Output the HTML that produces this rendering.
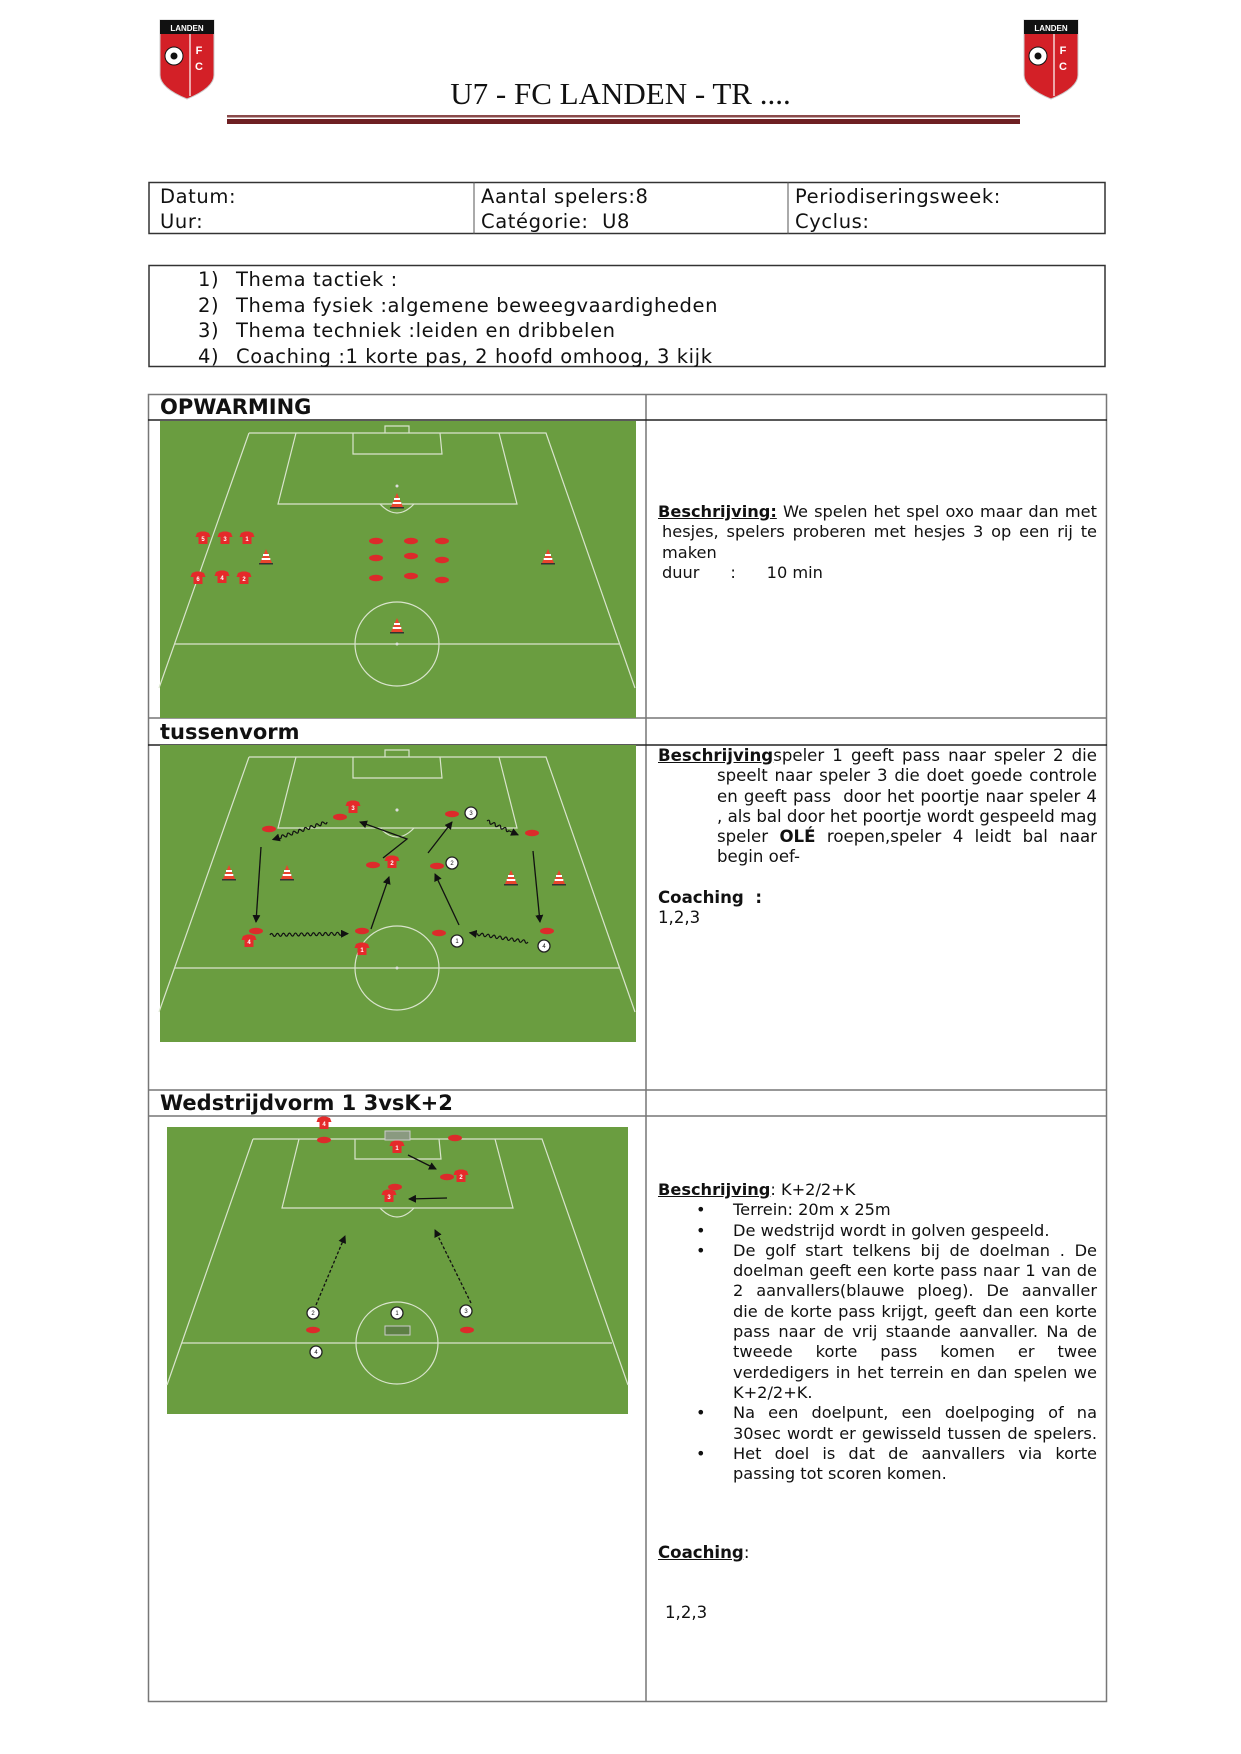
<!DOCTYPE html>
<html><head><meta charset="utf-8"><style>
body{margin:0;background:#fff}
#p{position:relative;width:1241px;height:1754px;overflow:hidden;font-family:"DejaVu Sans","Liberation Sans",sans-serif;color:#111}
.a{position:absolute}
.rt{font-size:16.6px;line-height:20.3px;text-align:justify}
.hd{font-weight:bold;font-size:21px}
.lt{font-size:19.5px;line-height:25px;letter-spacing:0.6px}
.j{text-align:justify;text-align-last:justify;white-space:nowrap}
.l{white-space:nowrap}
.bl{position:relative;padding-left:75px;font-size:16.2px}
.bl>span{position:absolute;left:38px}
</style></head><body><div id="p">
<svg class="a" style="left:0;top:0" width="1241" height="1754" viewBox="0 0 1241 1754">
<defs>
<g id="sh"><path d="M-6,-5 L-2,-6.5 L2,-6.5 L6,-5 L7.5,-1 L4.5,-1 L4.5,6 L-4.5,6 L-4.5,-1 L-7.5,-1 Z" fill="#e52a2a"/></g>
<g id="cn"><polygon points="0,-9 6,5 -6,5" fill="#e9452d"/><rect x="-3" y="-4" width="6" height="2" fill="#fff"/><rect x="-4.3" y="0" width="8.6" height="2" fill="#fff"/><rect x="-7" y="5" width="14" height="1.5" fill="#333"/></g>
<g id="ds"><ellipse cx="0" cy="0" rx="7" ry="3.2" fill="#dc2b2b"/></g>
<g id="wc"><circle r="6" fill="#fff" stroke="#222" stroke-width="1.3"/></g>
<marker id="ar" markerWidth="8" markerHeight="8" refX="7" refY="4" orient="auto" markerUnits="userSpaceOnUse"><path d="M0,0 L8,4 L0,8 Z" fill="#111"/></marker>
</defs>
<g id="logo">
<path d="M160,20 H214 V75 Q214,88 187,99 Q160,88 160,75 Z" fill="#d32027" stroke="#ccc"/>
<rect x="160" y="20" width="54" height="14" fill="#111"/>
<line x1="190" y1="34" x2="190" y2="96" stroke="#fff" stroke-width="1.2"/>
<circle cx="174" cy="56" r="9" fill="#fff" stroke="#111"/><circle cx="174" cy="56" r="3.5" fill="#111"/>
</g>
<text x="187" y="31" font-family="Liberation Sans" font-size="8" font-weight="bold" fill="#fff" text-anchor="middle">LANDEN</text>
<text x="199" y="54" font-family="Liberation Sans" font-size="11" font-weight="bold" fill="#fff" text-anchor="middle">F</text>
<text x="199" y="70" font-family="Liberation Sans" font-size="11" font-weight="bold" fill="#fff" text-anchor="middle">C</text>
<use href="#logo" transform="translate(864,0)"/>
<text x="1051" y="31" font-family="Liberation Sans" font-size="8" font-weight="bold" fill="#fff" text-anchor="middle">LANDEN</text>
<text x="1063" y="54" font-family="Liberation Sans" font-size="11" font-weight="bold" fill="#fff" text-anchor="middle">F</text>
<text x="1063" y="70" font-family="Liberation Sans" font-size="11" font-weight="bold" fill="#fff" text-anchor="middle">C</text>
<rect x="227" y="115" width="793" height="2.5" fill="#8a4a4a"/>
<rect x="227" y="119" width="793" height="5" fill="#6e1f22"/>
<rect x="149" y="182.5" width="956" height="51" fill="none" stroke="#333" stroke-width="1.5"/>
<line x1="474" y1="182" x2="474" y2="234" stroke="#555"/>
<line x1="788" y1="182" x2="788" y2="234" stroke="#555"/>
<rect x="149" y="265.5" width="956" height="101" fill="none" stroke="#333" stroke-width="1.5"/>
<g stroke="#777" stroke-width="1.5" fill="none">
<rect x="148.5" y="394.5" width="958" height="1307"/>
<line x1="646" y1="394" x2="646" y2="1702"/>
<line x1="148" y1="420" x2="1107" y2="420" stroke="#222"/>
<line x1="148" y1="718" x2="1107" y2="718"/>
<line x1="148" y1="745" x2="1107" y2="745" stroke="#222"/>
<line x1="148" y1="1090" x2="1107" y2="1090"/>
<line x1="148" y1="1116" x2="1107" y2="1116"/>
</g>
<rect x="160" y="421" width="476" height="297" fill="#6a9d40"/>
<g fill="none" stroke="#d9e4cc" stroke-width="1.2">
<path d="M249,433 H546 L635,688 M249,433 L159,688"/>
<path d="M296,433 L278,504 H517 L499,433"/>
<path d="M353,433 V454 H442 L440,433"/>
<path d="M385,433 V426 H409 V433"/>
<path d="M175,644 H619"/>
<circle cx="397" cy="644" r="42"/>
<path d="M380,504 Q397,522 414,504"/>
</g>
<circle cx="397" cy="486" r="1.5" fill="#ddd"/><circle cx="397" cy="644" r="1.5" fill="#ddd"/>
<use href="#sh" x="203" y="538"/><use href="#sh" x="225" y="538"/><use href="#sh" x="247" y="538"/>
<use href="#sh" x="198" y="578"/><use href="#sh" x="222" y="577"/><use href="#sh" x="244" y="578"/>
<use href="#cn" x="397" y="502"/><use href="#cn" x="266" y="558"/><use href="#cn" x="548" y="558"/><use href="#cn" x="397" y="627"/>
<use href="#ds" x="376" y="541"/><use href="#ds" x="411" y="541"/><use href="#ds" x="442" y="541"/>
<use href="#ds" x="376" y="558"/><use href="#ds" x="411" y="556"/><use href="#ds" x="442" y="560"/>
<use href="#ds" x="376" y="578"/><use href="#ds" x="411" y="576"/><use href="#ds" x="442" y="580"/>
<g font-size="6" fill="#fff" font-family="Liberation Sans" text-anchor="middle" font-weight="bold">
<text x="203" y="541">5</text><text x="225" y="541">3</text><text x="247" y="541">1</text>
<text x="198" y="581">6</text><text x="222" y="580">4</text><text x="244" y="581">2</text>
</g>
<g transform="translate(0,324)">
<rect x="160" y="421" width="476" height="297" fill="#6a9d40"/>
<g fill="none" stroke="#d9e4cc" stroke-width="1.2">
<path d="M249,433 H546 L635,688 M249,433 L159,688"/>
<path d="M296,433 L278,504 H517 L499,433"/>
<path d="M353,433 V454 H442 L440,433"/>
<path d="M385,433 V426 H409 V433"/>
<path d="M175,644 H619"/>
<circle cx="397" cy="644" r="42"/>
<path d="M380,504 Q397,522 414,504"/>
</g>
<circle cx="397" cy="486" r="1.5" fill="#ddd"/><circle cx="397" cy="644" r="1.5" fill="#ddd"/>
</g>
<use href="#ds" x="340" y="817"/><use href="#ds" x="269" y="829"/><use href="#ds" x="452" y="814"/><use href="#ds" x="532" y="833"/>
<use href="#ds" x="373" y="865"/><use href="#ds" x="437" y="866"/><use href="#ds" x="256" y="931"/><use href="#ds" x="362" y="931"/>
<use href="#ds" x="439" y="933"/><use href="#ds" x="547" y="931"/>
<use href="#cn" x="229" y="874"/><use href="#cn" x="287" y="874"/><use href="#cn" x="511" y="879"/><use href="#cn" x="559" y="879"/>
<use href="#sh" x="353" y="807"/><use href="#sh" x="392" y="862"/><use href="#sh" x="249" y="941"/><use href="#sh" x="362" y="949"/>
<use href="#wc" x="471" y="813"/><use href="#wc" x="452" y="863"/><use href="#wc" x="457" y="941"/><use href="#wc" x="544" y="946"/>
<g font-size="6" fill="#fff" font-family="Liberation Sans" text-anchor="middle" font-weight="bold">
<text x="353" y="810">3</text><text x="392" y="865">2</text><text x="249" y="944">4</text><text x="362" y="952">1</text>
</g>
<g font-size="6" fill="#111" font-family="Liberation Sans" text-anchor="middle">
<text x="471" y="815">3</text><text x="452" y="865">2</text><text x="457" y="943">1</text><text x="544" y="948">4</text>
</g>
<g stroke="#111" stroke-width="1.3" fill="none" marker-end="url(#ar)">
<line x1="261" y1="847" x2="256" y2="922"/>
<line x1="371" y1="929" x2="389" y2="877"/>
<line x1="459" y1="925" x2="435" y2="874"/>
<line x1="533" y1="851" x2="540" y2="922"/>
<line x1="428" y1="853" x2="452" y2="822"/>
<path d="M383,858 L407,839 L360,822"/>
</g>
<g stroke="#111" stroke-width="1.2" fill="none">
<path transform="translate(270,935) rotate(-1)" d="M0,0 q1.5,-3 3,0 t3,0 t3,0 t3,0 t3,0 t3,0 t3,0 t3,0 t3,0 t3,0 t3,0 t3,0 t3,0 t3,0 t3,0 t3,0 t3,0 t3,0 t3,0 t3,0 t3,0 t3,0 t3,0 t3,0 l6,0" marker-end="url(#ar)"/>
<path transform="translate(528,942) rotate(189)" d="M0,0 q1.5,-3 3,0 t3,0 t3,0 t3,0 t3,0 t3,0 t3,0 t3,0 t3,0 t3,0 t3,0 t3,0 t3,0 t3,0 t3,0 t3,0 t3,0 l8,0" marker-end="url(#ar)"/>
<path transform="translate(327,822) rotate(162)" d="M0,0 q1.5,-3 3,0 t3,0 t3,0 t3,0 t3,0 t3,0 t3,0 t3,0 t3,0 t3,0 t3,0 t3,0 t3,0 t3,0 t3,0 t3,0 t3,0 l6,0" marker-end="url(#ar)"/>
<path transform="translate(487,821) rotate(24)" d="M0,0 q1.5,-3 3,0 t3,0 t3,0 t3,0 t3,0 t3,0 t3,0 t3,0 l10,0" marker-end="url(#ar)"/>
</g>
<circle cx="397" cy="810" r="1.5" fill="#ddd"/>
<rect x="167" y="1127" width="461" height="287" fill="#6a9d40"/>
<g fill="none" stroke="#d9e4cc" stroke-width="1.2">
<path d="M253,1139 H542 L628,1385 M253,1139 L167,1385"/>
<path d="M299,1139 L282,1208 H513 L495,1139"/>
<path d="M355,1139 L355,1159 H441 L439,1139"/>
<path d="M182,1343 H612"/>
<circle cx="397" cy="1343" r="41"/>
<path d="M380,1208 Q397,1226 414,1208"/>
</g>
<rect x="385" y="1131" width="25" height="9" fill="#8a9a80" stroke="#ccc"/>
<rect x="385" y="1326" width="25" height="9" fill="#5d7f45" stroke="#ccc"/>
<use href="#ds" x="324" y="1140"/><use href="#ds" x="455" y="1138"/><use href="#ds" x="447" y="1177"/><use href="#ds" x="395" y="1187"/>
<use href="#ds" x="313" y="1330"/><use href="#ds" x="467" y="1330"/>
<use href="#sh" x="324" y="1123"/><use href="#sh" x="397" y="1147"/><use href="#sh" x="461" y="1176"/><use href="#sh" x="389" y="1196"/>
<use href="#wc" x="313" y="1313"/><use href="#wc" x="397" y="1313"/><use href="#wc" x="466" y="1311"/><use href="#wc" x="316" y="1352"/>
<g font-size="6" fill="#fff" font-family="Liberation Sans" text-anchor="middle" font-weight="bold">
<text x="324" y="1126">4</text><text x="397" y="1150">1</text><text x="461" y="1179">2</text><text x="389" y="1199">3</text>
</g>
<g font-size="6" fill="#111" font-family="Liberation Sans" text-anchor="middle">
<text x="313" y="1315">2</text><text x="397" y="1315">1</text><text x="466" y="1313">3</text><text x="316" y="1354">4</text>
</g>
<g stroke="#111" stroke-width="1.3" fill="none" marker-end="url(#ar)">
<line x1="408" y1="1155" x2="436" y2="1169"/>
<line x1="447" y1="1198" x2="409" y2="1199"/>
<line x1="316" y1="1305" x2="345" y2="1236" stroke-dasharray="3,2"/>
<line x1="471" y1="1303" x2="435" y2="1230" stroke-dasharray="3,2"/>
</g>
</svg>

<div class="a" style="left:0;width:1241px;top:76px;text-align:center;font-family:'Liberation Serif',serif;font-size:31px">U7 - FC LANDEN - TR ....</div>

<div class="a lt" style="left:160px;top:184px">Datum:<br>Uur:</div>
<div class="a lt" style="left:481px;top:184px">Aantal spelers:8<br>Catégorie:&nbsp; U8</div>
<div class="a lt" style="left:795px;top:184px">Periodiseringsweek:<br>Cyclus:</div>

<div class="a lt" style="left:198px;top:267px;line-height:25.5px">1)<br>2)<br>3)<br>4)</div>
<div class="a lt" style="left:236px;top:267px;line-height:25.5px">Thema tactiek :<br>Thema fysiek :algemene beweegvaardigheden<br>Thema techniek :leiden en dribbelen<br>Coaching :1 korte pas, 2 hoofd omhoog, 3 kijk</div>

<div class="a hd" style="left:160px;top:395px">OPWARMING</div>
<div class="a hd" style="left:160px;top:720px">tussenvorm</div>
<div class="a hd" style="left:160px;top:1091px">Wedstrijdvorm 1 3vsK+2</div>

<div class="a rt" style="left:658px;top:502px;width:439px;font-size:16.2px">
<div class="j"><b><u>Beschrijving:</u></b> We spelen het spel oxo maar dan met</div>
<div class="j" style="padding-left:4px">hesjes, spelers proberen met hesjes 3 op een rij te</div>
<div class="l" style="padding-left:4px">maken</div>
<div class="l" style="padding-left:4px">duur&nbsp;&nbsp;&nbsp;&nbsp;&nbsp; :&nbsp;&nbsp;&nbsp;&nbsp;&nbsp; 10 min</div></div>

<div class="a rt" style="left:658px;top:746px;width:439px"><div style="padding-left:59px;text-indent:-59px"><b><u>Beschrijving</u></b>speler 1 geeft pass naar speler 2 die speelt naar speler 3 die doet goede controle en geeft pass&nbsp; door het poortje naar speler 4 , als bal door het poortje wordt gespeeld mag speler <b>OLÉ</b> roepen,speler 4 leidt bal naar begin oef-</div>
<div style="height:20px"></div>
<b>Coaching&nbsp; :</b><br>1,2,3</div>

<div class="a rt" style="left:658px;top:1180px;width:439px;font-size:16.2px"><b><u>Beschrijving</u></b>: K+2/2+K
<div class="bl"><span>•</span>Terrein: 20m x 25m</div>
<div class="bl"><span>•</span>De wedstrijd wordt in golven gespeeld.</div>
<div class="bl"><span>•</span><div class="j">De golf start telkens bij de doelman . De</div><div class="j">doelman geeft een korte pass naar 1 van de</div><div class="j">2 aanvallers(blauwe ploeg). De aanvaller</div><div class="j">die de korte pass krijgt, geeft dan een korte</div><div class="j">pass naar de vrij staande aanvaller. Na de</div><div class="j">tweede korte pass komen er twee</div><div class="j">verdedigers in het terrein en dan spelen we</div><div class="l">K+2/2+K.</div></div>
<div class="bl"><span>•</span><div class="j">Na een doelpunt, een doelpoging of na</div><div class="j">30sec wordt er gewisseld tussen de spelers.</div></div>
<div class="bl"><span>•</span><div class="j">Het doel is dat de aanvallers via korte</div><div class="l">passing tot scoren komen.</div></div></div>

<div class="a rt" style="left:658px;top:1543px"><b><u>Coaching</u></b>:</div>
<div class="a rt" style="left:665px;top:1603px">1,2,3</div>
</div></body></html>
